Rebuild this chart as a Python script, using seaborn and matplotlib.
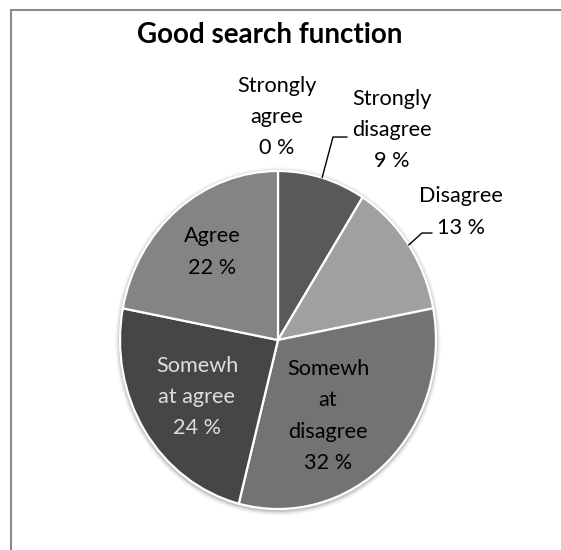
import numpy as np
import matplotlib
matplotlib.use("Agg")
import matplotlib.pyplot as plt
from matplotlib.lines import Line2D
from matplotlib.patches import Ellipse
import seaborn as sns

# Survey responses, clockwise from 12 o'clock
categories = ["Strongly agree", "Strongly disagree", "Disagree",
              "Somewhat disagree", "Somewhat agree", "Agree"]
shares = [0, 9, 13, 32, 24, 22]
label_lines = ["Strongly\nagree", "Strongly\ndisagree", "Disagree",
               "Somewh\nat\ndisagree", "Somewh\nat agree", "Agree"]
title = "Good search function"

sns.set_theme(style="white")
plt.rcParams["font.family"] = ["Lato", "DejaVu Sans"]

slice_colors = ["#7f7f7f", "#595959", "#a0a0a0", "#737373", "#464646", "#848484"]
text_colors = ["black", "black", "black", "black", "#dedede", "black"]

W, H, DPI = 561, 550, 100
fig = plt.figure(figsize=(W / DPI, H / DPI), dpi=DPI)
fig.patch.set_facecolor("white")

# pie centre and radii in pixels (slightly taller than wide)
cx, cy, rx, ry = 278, 340, 158, 169
ax = fig.add_axes([0, 0, 1, 1])

# soft shadow halo behind the pie
for k, a in zip([1.030, 1.022, 1.015, 1.008], [0.05, 0.08, 0.12, 0.18]):
    ax.add_patch(Ellipse((0, -0.008), 2 * k, 2 * k * 1.0, facecolor="#606060",
                         edgecolor="none", alpha=a, zorder=0))

ax.pie(shares, colors=slice_colors, startangle=90, counterclock=False,
       wedgeprops=dict(edgecolor="white", linewidth=1.6, zorder=2))
ax.set_aspect("auto")
ax.set_xlim(-cx / rx, (W - cx) / rx)
ax.set_ylim(-(H - cy) / ry, cy / ry)
ax.axis("off")

# label anchors (data units) and leader elbows for outside labels
label_pos = [(-0.006, 1.32), (0.72, 1.243), (1.16, 0.757),
             (0.316, -0.45), (-0.513, -0.337), (-0.418, 0.521)]
leaders = {1: ((0.348, 1.201), (0.437, 1.201)),
           2: ((0.911, 0.633), (0.975, 0.633))}

total = sum(shares)
start = 90.0
for i, (name, val) in enumerate(zip(label_lines, shares)):
    sweep = 360.0 * val / total
    mid = np.deg2rad(start - sweep / 2)
    start -= sweep
    pct = f"{val} %"
    x, y = label_pos[i]
    ax.text(x, y, f"{name}\n{pct}", ha="center", va="center",
            multialignment="center", fontsize=15.6, color=text_colors[i],
            linespacing=1.7, zorder=4)
    if i in leaders:
        (ex, ey), (tx, ty) = leaders[i]
        ax.add_line(Line2D([np.cos(mid), ex, tx], [np.sin(mid), ey, ty],
                           color="black", lw=1.0, zorder=3))

fig.text(270 / W, 1 - 35 / H, title, ha="center", va="center",
         fontsize=20, fontweight="bold", color="black")

# chart frame (top and left edges visible)
frame_col = "#898989"
fig.add_artist(Line2D([11 / W, 1.0], [1 - 10 / H, 1 - 10 / H],
                      transform=fig.transFigure, color=frame_col, lw=1.5))
fig.add_artist(Line2D([11 / W, 11 / W], [0.0, 1 - 10 / H],
                      transform=fig.transFigure, color=frame_col, lw=1.5))

fig.savefig("out.png", dpi=DPI, facecolor="white")
